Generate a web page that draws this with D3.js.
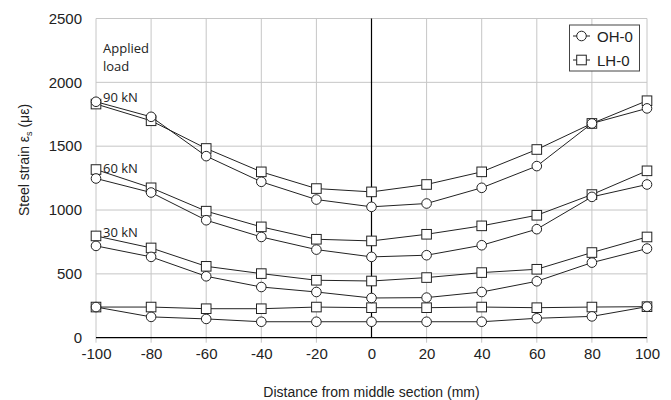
<!DOCTYPE html>
<html><head><meta charset="utf-8">
<script src="https://cdn.jsdelivr.net/npm/d3@7"></script>
<style>body{margin:0;background:#fff}</style>
</head><body>
<svg id="c" width="671" height="400"></svg>
<script>
const distances = [-100,-80,-60,-40,-20,0,20,40,60,80,100];
const loadLabels = ["", "30 kN", "60 kN", "90 kN"];
// OH-0 (circles), one array per load level
const oh0_0  = [240,163,147,125,125,125,125,125,152,167,243];
const oh0_30 = [719,633,481,397,358,311,314,358,442,588,698];
const oh0_60 = [1247,1137,920,789,690,633,646,724,850,1103,1200];
const oh0_90 = [1848,1730,1422,1221,1082,1025,1051,1174,1344,1678,1796];
// LH-0 (squares)
const lh0_0  = [240,240,227,227,240,235,235,240,235,240,243];
const lh0_30 = [797,703,559,502,450,444,471,510,536,667,789];
const lh0_60 = [1317,1174,991,868,771,758,810,876,959,1121,1307];
const lh0_90 = [1830,1699,1482,1299,1168,1142,1200,1299,1474,1678,1856];
const xTicks = [-100,-80,-60,-40,-20,0,20,40,60,80,100];
const yTicks = [0,500,1000,1500,2000,2500];

const FONT = "'Liberation Sans', Arial, sans-serif";
const svg = d3.select("#c");
const L=96, R=647, T=18.5, B=337.7;
const x = d3.scaleLinear().domain([-100,100]).range([L,R]);
const y = d3.scaleLinear().domain([0,2500]).range([B,T]);
const grid = "#c6c6c6", ink="#222";
const fmt = d => String(d);

// horizontal gridlines
svg.append("g").selectAll("line").data(yTicks.filter(d=>d>0)).join("line")
  .attr("x1",L).attr("x2",R).attr("y1",d=>y(d)).attr("y2",d=>y(d))
  .attr("stroke",grid).attr("stroke-width",1);
// vertical gridlines (extend below as ticks)
svg.append("g").selectAll("line").data(xTicks.filter(d=>d!==0)).join("line")
  .attr("x1",d=>x(d)).attr("x2",d=>x(d)).attr("y1",T).attr("y2",B+5)
  .attr("stroke",grid).attr("stroke-width",1);
// zero line and bottom axis
svg.append("line").attr("x1",x(0)).attr("x2",x(0)).attr("y1",T).attr("y2",B)
  .attr("stroke","#000").attr("stroke-width",1.2);
svg.append("line").attr("x1",L).attr("x2",R).attr("y1",y(0)).attr("y2",y(0))
  .attr("stroke","#000").attr("stroke-width",1.2);

// axes labels via d3 axes
const xAxis = svg.append("g").attr("transform",`translate(0,${B})`)
  .call(d3.axisBottom(x).tickValues(xTicks).tickFormat(fmt).tickSize(0).tickPadding(11));
xAxis.attr("font-family",FONT).attr("font-size",15);
xAxis.select(".domain").remove();
xAxis.selectAll("text").attr("fill","#222");
const yAxis = svg.append("g").attr("transform",`translate(${L},0)`)
  .call(d3.axisLeft(y).tickValues(yTicks).tickFormat(fmt).tickSize(0).tickPadding(14));
yAxis.attr("font-family",FONT).attr("font-size",15);
yAxis.select(".domain").remove();
yAxis.selectAll("text").attr("fill","#222");

// axis titles
svg.append("text").attr("x",(L+R)/2).attr("y",397).attr("text-anchor","middle")
  .attr("font-family",FONT).attr("font-size",14).attr("fill","#222")
  .text("Distance from middle section (mm)");
const yt = svg.append("text").attr("transform","translate(29,160) rotate(-90)").attr("text-anchor","middle")
  .attr("font-family",FONT).attr("font-size",14).attr("fill","#222");
yt.append("tspan").text("Steel strain ε");
yt.append("tspan").attr("font-size",9).attr("dy",3).text("s");
yt.append("tspan").attr("dy",-3).text(" (με)");

// series
const ohSeries = [oh0_0, oh0_30, oh0_60, oh0_90];
const lhSeries = [lh0_0, lh0_30, lh0_60, lh0_90];
const line = d3.line().x((d,i)=>x(distances[i])).y(d=>y(d));
const g = svg.append("g");
function drawSeries(arr, shape){
  g.append("path").attr("d",line(arr)).attr("fill","none").attr("stroke",ink).attr("stroke-width",1);
  const m = g.append("g");
  arr.forEach((v,i)=>{
    if(shape==="c") m.append("circle").attr("cx",x(distances[i])).attr("cy",y(v)).attr("r",4.8)
        .attr("fill","#fff").attr("stroke",ink).attr("stroke-width",1);
    else m.append("rect").attr("x",x(distances[i])-4.8).attr("y",y(v)-4.8).attr("width",9.6).attr("height",9.6)
        .attr("fill","#fff").attr("stroke",ink).attr("stroke-width",1);
  });
}
lhSeries.forEach(s=>drawSeries(s,"s"));
ohSeries.forEach(s=>drawSeries(s,"c"));

// load annotations
const ann = svg.append("g").attr("font-family","'Open Sans', sans-serif").attr("font-size",13).attr("fill","#222");
ann.append("text").attr("x",103).attr("y",53).text("Applied");
ann.append("text").attr("x",103).attr("y",71).text("load");
const annY = [null, 232, 168, 97.5];
loadLabels.forEach((t,i)=>{ if(t) ann.append("text").attr("x",103).attr("y",annY[i]+4.5).text(t); });

// legend
const lg = svg.append("g");
lg.append("rect").attr("x",569.5).attr("y",25).attr("width",70).attr("height",46)
  .attr("fill","#fff").attr("stroke","#444").attr("stroke-width",1);
const legItems = [["OH-0","c"],["LH-0","s"]];
legItems.forEach((it,i)=>{
  const cy = 36 + i*24;
  lg.append("line").attr("x1",573).attr("x2",590).attr("y1",cy).attr("y2",cy).attr("stroke",ink);
  if(it[1]==="c") lg.append("circle").attr("cx",581.5).attr("cy",cy).attr("r",4.8).attr("fill","#fff").attr("stroke",ink);
  else lg.append("rect").attr("x",576.7).attr("y",cy-4.8).attr("width",9.6).attr("height",9.6).attr("fill","#fff").attr("stroke",ink);
  lg.append("text").attr("x",597).attr("y",cy+5.5).attr("font-family",FONT)
    .attr("font-size",15).attr("fill","#222").text(it[0]);
});
</script>
</body></html>
